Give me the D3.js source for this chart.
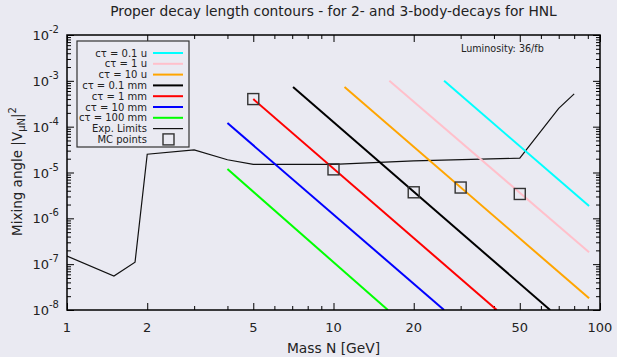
<!DOCTYPE html>
<html><head><meta charset="utf-8">
<script src="https://cdn.jsdelivr.net/npm/d3@7"></script>
<style>
body{margin:0;background:#eaeaf2;}
svg{display:block;font-family:"DejaVu Sans",sans-serif;}
</style></head>
<body><svg id="c" width="617" height="357"></svg>
<script>
// ---- data ----
const seriesNames = ["cτ = 0.1 u","cτ = 1 u","cτ = 10 u","cτ = 0.1 mm","cτ = 1 mm","cτ = 10 mm","cτ = 100 mm"];
const seriesColors = ["#00ffff","#ffc0cb","#ffa500","#000000","#ff0000","#0000ff","#00ff00"];
// each contour: [mass GeV, |V|^2] end points
const ct01u  = [[26,1.0e-3],[91,1.85e-6]];
const ct1u   = [[16.2,1.0e-3],[91,1.83e-7]];
const ct10u  = [[11,7.3e-4],[91,1.8e-8]];
const ct01mm = [[7.05,7.3e-4],[65,1e-8]];
const ct1mm  = [[5,4.0e-4],[41,1e-8]];
const ct10mm = [[4,1.2e-4],[26,1e-8]];
const ct100mm= [[4,1.19e-5],[16,1e-8]];
const contours = [ct01u,ct1u,ct10u,ct01mm,ct1mm,ct10mm,ct100mm];
const expLimitMass = [1,1.5,1.8,2.0,3.0,4,5,10,20,50,70,80];
const expLimitVal  = [1.5e-7,5.5e-8,1.1e-7,2.5e-5,3.1e-5,1.9e-5,1.5e-5,1.5e-5,1.8e-5,2.05e-5,2.5e-4,5.2e-4];
const mcMass = [5,10,20,30,50];
const mcVal  = [4.0e-4,1.17e-5,3.7e-6,4.7e-6,3.4e-6];
const xMajor = [1,2,5,10,20,50,100];
const xMinor = [3,4,6,7,8,9,30,40,60,70,80,90];
const yExp = [-8,-7,-6,-5,-4,-3,-2];

// ---- layout ----
const L=67,R=600,T=35,B=310;
const svg=d3.select("#c");
svg.append("rect").attr("width",617).attr("height",357).attr("fill","#eaeaf2");
const x=d3.scaleLog().domain([1,100]).range([L,R]);
const y=d3.scaleLog().domain([1e-8,1e-2]).range([B,T]);
const yMajor=yExp.map(e=>Math.pow(10,e));
const yMinor=[];
for(let e=-8;e<-2;e++) for(let k=2;k<=9;k++) yMinor.push(k*Math.pow(10,e));

const defs=svg.append("defs");
defs.append("clipPath").attr("id","clip").append("rect").attr("x",L).attr("y",T).attr("width",R-L).attr("height",B-T);

// axes ticks
function styleAxis(g){g.select(".domain").remove();g.selectAll("line").attr("stroke","#000").attr("stroke-width",1);g.selectAll("text").remove();}
svg.append("g").attr("transform",`translate(0,${B})`).call(d3.axisBottom(x).tickValues(xMajor).tickSize(-7)).call(styleAxis);
svg.append("g").attr("transform",`translate(0,${B})`).call(d3.axisBottom(x).tickValues(xMinor).tickSize(-4)).call(styleAxis);
svg.append("g").attr("transform",`translate(0,${T})`).call(d3.axisTop(x).tickValues(xMajor).tickSize(-7)).call(styleAxis);
svg.append("g").attr("transform",`translate(0,${T})`).call(d3.axisTop(x).tickValues(xMinor).tickSize(-4)).call(styleAxis);
svg.append("g").attr("transform",`translate(${L},0)`).call(d3.axisLeft(y).tickValues(yMajor).tickSize(-7)).call(styleAxis);
svg.append("g").attr("transform",`translate(${L},0)`).call(d3.axisLeft(y).tickValues(yMinor).tickSize(-4)).call(styleAxis);
svg.append("g").attr("transform",`translate(${R},0)`).call(d3.axisRight(y).tickValues(yMajor).tickSize(-7)).call(styleAxis);
svg.append("g").attr("transform",`translate(${R},0)`).call(d3.axisRight(y).tickValues(yMinor).tickSize(-4)).call(styleAxis);

// tick labels
svg.append("g").selectAll("text").data(xMajor).join("text")
  .attr("x",d=>x(d)).attr("y",332).attr("text-anchor","middle").attr("font-size",13).attr("fill","#222").text(d=>d);
const yl=svg.append("g").selectAll("text").data(yExp).join("text")
  .attr("x",59).attr("y",d=>y(Math.pow(10,d))+5).attr("text-anchor","end").attr("font-size",13).attr("fill","#222");
yl.append("tspan").text("10");
yl.append("tspan").attr("dy",-7).attr("font-size",10).text(d=>d);

// plot content
const line=d3.line().x(d=>x(d[0])).y(d=>y(d[1]));
const plot=svg.append("g").attr("clip-path","url(#clip)");
plot.append("path").datum(expLimitMass.map((m,i)=>[m,expLimitVal[i]]))
  .attr("d",line).attr("fill","none").attr("stroke","#111").attr("stroke-width",1.2);
contours.forEach((c,i)=>{
  plot.append("path").datum(c).attr("d",line).attr("fill","none").attr("stroke",seriesColors[i]).attr("stroke-width",2);
});
plot.selectAll("rect.mc").data(mcMass.map((m,i)=>[m,mcVal[i]])).join("rect").attr("class","mc")
  .attr("x",d=>x(d[0])-5.5).attr("y",d=>y(d[1])-5.5).attr("width",11).attr("height",11)
  .attr("fill","none").attr("stroke","#333").attr("stroke-width",1.4);

// frame
svg.append("rect").attr("x",L).attr("y",T).attr("width",R-L).attr("height",B-T).attr("fill","none").attr("stroke","#000").attr("stroke-width",1.5);

// legend
const lg=svg.append("g");
lg.append("rect").attr("x",77).attr("y",41).attr("width",112).attr("height",106).attr("fill","#eaeaf2").attr("stroke","#333").attr("stroke-width",1.2);
const rowY=i=>53+i*10.8;
const fs=10;
seriesNames.forEach((n,i)=>{
  lg.append("text").attr("x",147).attr("y",rowY(i)+3.6).attr("text-anchor","end").attr("font-size",fs).attr("fill","#222").text(n);
  lg.append("line").attr("x1",153).attr("x2",183).attr("y1",rowY(i)).attr("y2",rowY(i)).attr("stroke",seriesColors[i]).attr("stroke-width",2);
});
lg.append("text").attr("x",147).attr("y",rowY(7)+3.6).attr("text-anchor","end").attr("font-size",fs).attr("fill","#222").text("Exp. Limits");
lg.append("line").attr("x1",153).attr("x2",183).attr("y1",rowY(7)).attr("y2",rowY(7)).attr("stroke","#111").attr("stroke-width",1.2);
lg.append("text").attr("x",147).attr("y",rowY(8)+3.6).attr("text-anchor","end").attr("font-size",fs).attr("fill","#222").text("MC points");
lg.append("rect").attr("x",163).attr("y",rowY(8)-5.5).attr("width",11).attr("height",11).attr("fill","none").attr("stroke","#333").attr("stroke-width",1.4);

svg.append("text").attr("x",461).attr("y",52).attr("font-size",9.6).attr("fill","#222").text("Luminosity: 36/fb");

// titles
svg.append("text").attr("x",333.5).attr("y",16).attr("text-anchor","middle").attr("font-size",13.8).attr("fill","#222")
  .text("Proper decay length contours - for 2- and 3-body-decays for HNL");
svg.append("text").attr("x",333.5).attr("y",353).attr("text-anchor","middle").attr("font-size",13.8).attr("fill","#222").text("Mass N [GeV]");
const ylab=svg.append("text").attr("transform","translate(22,171.5) rotate(-90)").attr("text-anchor","middle").attr("font-size",13.5).attr("fill","#222");
ylab.append("tspan").text("Mixing angle |V");
ylab.append("tspan").attr("dy",3).attr("font-size",10).text("μN");
ylab.append("tspan").attr("dy",-3).text("|");
ylab.append("tspan").attr("dy",-6).attr("font-size",10).text("2");
</script></body></html>
